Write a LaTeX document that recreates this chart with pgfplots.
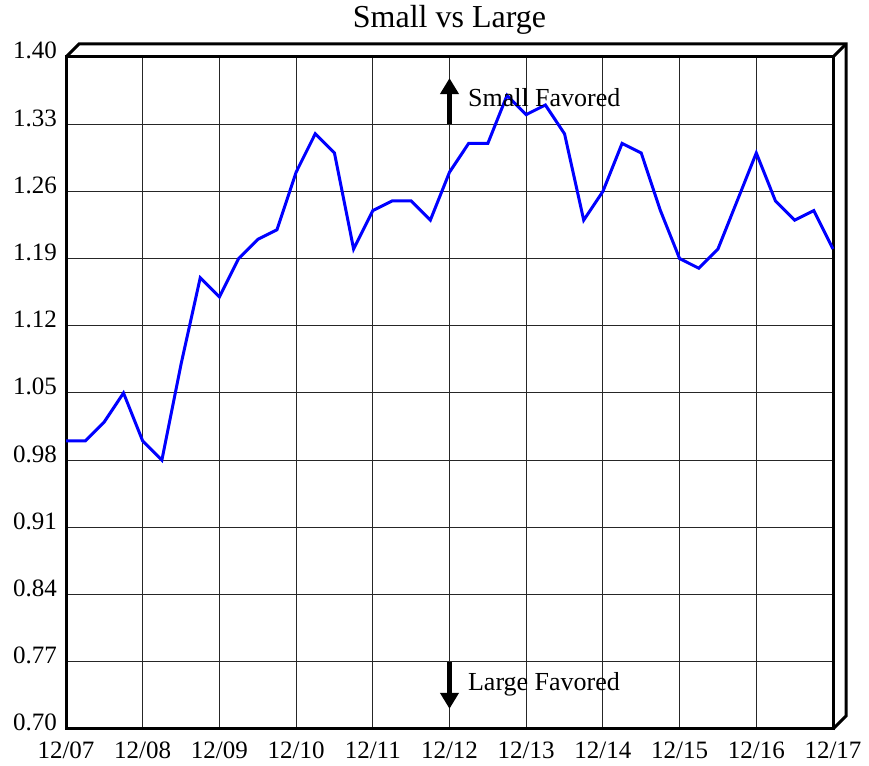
\documentclass[border=0pt]{standalone}
\usepackage{pgfplots}
\pgfplotsset{compat=1.18}
\usepackage{fontspec}
\setmainfont{Liberation Serif}
\usetikzlibrary{arrows.meta}
\pgfplotstableread{
x y
2007.00 1.00
2007.25 1.00
2007.50 1.02
2007.75 1.05
2008.00 1.00
2008.25 0.98
2008.50 1.08
2008.75 1.17
2009.00 1.15
2009.25 1.19
2009.50 1.21
2009.75 1.22
2010.00 1.28
2010.25 1.32
2010.50 1.30
2010.75 1.20
2011.00 1.24
2011.25 1.25
2011.50 1.25
2011.75 1.23
2012.00 1.28
2012.25 1.31
2012.50 1.31
2012.75 1.36
2013.00 1.34
2013.25 1.35
2013.50 1.32
2013.75 1.23
2014.00 1.26
2014.25 1.31
2014.50 1.30
2014.75 1.24
2015.00 1.19
2015.25 1.18
2015.50 1.20
2015.75 1.25
2016.00 1.30
2016.25 1.25
2016.50 1.23
2016.75 1.24
2017.00 1.20
}\datatable
\begin{document}
\begin{tikzpicture}
\useasboundingbox (-33pt,-18.5pt) rectangle (401.5pt,364.5pt);
\begin{axis}[
  at={(0,0)}, anchor=south west,
  scale only axis,
  width=383.5pt, height=336pt,
  xmin=2007, xmax=2017, ymin=0.70, ymax=1.40,
  xtick={2007,2008,...,2017},
  xticklabels={12/07,12/08,12/09,12/10,12/11,12/12,12/13,12/14,12/15,12/16,12/17},
  ytick={0.70,0.77,0.84,0.91,0.98,1.05,1.12,1.19,1.26,1.33,1.40},
  /pgf/number format/assume math mode=true,
  tick label style={font=\fontsize{12.5}{14}\selectfont, text=black},
  yticklabel style={anchor=base east, yshift=-1pt, xshift=-1pt, /pgf/number format/.cd, fixed, fixed zerofill, precision=2},
  xticklabel style={anchor=base, yshift=-15pt},
  major tick length=0pt,
  grid=major,
  major grid style={black!85, line width=0.5pt},
  axis line style={line width=1.5pt},
  clip=false,
]
\addplot[blue, line width=1.5pt, no markers] table[x=x,y=y] {\datatable};
\draw[-{Triangle[length=8pt,width=9pt]}, line width=2.5pt] (axis cs:2012,1.33) -- (axis cs:2012,1.378);
\node[anchor=west, font=\fontsize{13}{15}\selectfont] at (axis cs:2012.15,1.358) {Small Favored};
\draw[-{Triangle[length=8pt,width=9pt]}, line width=2.5pt] (axis cs:2012,0.77) -- (axis cs:2012,0.721);
\node[anchor=west, font=\fontsize{13}{15}\selectfont] at (axis cs:2012.15,0.747) {Large Favored};
\end{axis}
\node[anchor=base, font=\fontsize{16}{18}\selectfont] at (191.75pt,350.5pt) {Small vs Large};
\draw[line width=1.5pt, line join=miter] (0,336pt) -- (6.5pt,342.5pt) -- (390pt,342.5pt) -- (390pt,6.5pt) -- (383.5pt,0pt);
\draw[line width=1.5pt] (383.5pt,336pt) -- (390pt,342.5pt);
\end{tikzpicture}
\end{document}
